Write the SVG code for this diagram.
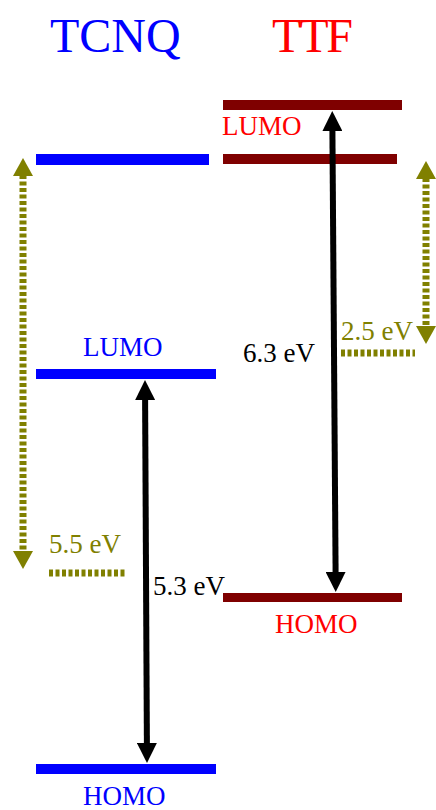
<svg xmlns="http://www.w3.org/2000/svg" width="436" height="810" viewBox="0 0 436 810">
<style>
text{font-family:"Liberation Serif","Times New Roman",serif}
.title{font-size:48px}
.lbl{font-size:27px}
.blue{fill:#0000ff}
.red{fill:#ff0000}
.olv{fill:#808000}
.blk{fill:#000}
.lvB{fill:#0000ff}
.lvR{fill:#7f0000}
.arr{stroke:#000;stroke-width:6;fill:none}
.dot{stroke:#808000;stroke-width:7;stroke-dasharray:4 2.5;fill:none}
</style>
<defs>
<marker id="hb" viewBox="0 0 20 20" refX="1" refY="10" markerWidth="20" markerHeight="20" markerUnits="userSpaceOnUse" orient="auto-start-reverse">
<path d="M0,0 L20,10 L0,20 z" fill="#000"/>
</marker>
<marker id="ho" viewBox="0 0 18 20" refX="1" refY="10" markerWidth="18" markerHeight="20" markerUnits="userSpaceOnUse" orient="auto-start-reverse">
<path d="M0,0 L18,10 L0,20 z" fill="#808000"/>
</marker>
</defs>
<g id="titles">
<text class="title blue" x="50" y="52">TCNQ</text>
<text class="title red" x="272" y="52" textLength="81">TTF</text>
</g>
<g id="tcnq-top"><rect class="lvB" x="36" y="154" width="173" height="11"/></g>
<g id="tcnq-lumo"><rect class="lvB" x="36" y="369" width="180" height="10"/><text class="lbl blue" x="83" y="356">LUMO</text></g>
<g id="tcnq-homo"><rect class="lvB" x="36" y="764" width="180" height="10"/><text class="lbl blue" x="83" y="805">HOMO</text></g>
<g id="ttf-lumo"><rect class="lvR" x="223" y="100" width="179" height="10"/><text class="lbl red" x="222" y="135">LUMO</text></g>
<g id="ttf-level2"><rect class="lvR" x="223" y="154" width="174" height="10"/></g>
<g id="ttf-homo"><rect class="lvR" x="223" y="593" width="179" height="9"/><text class="lbl red" x="275" y="633">HOMO</text></g>
<g id="connectors">
<line class="arr" x1="332.4" y1="130" x2="335.6" y2="573" marker-start="url(#hb)" marker-end="url(#hb)"/>
<line class="arr" x1="145.1" y1="399" x2="146.9" y2="744" marker-start="url(#hb)" marker-end="url(#hb)"/>
<line class="dot" x1="23" y1="175" x2="23" y2="552" marker-start="url(#ho)" marker-end="url(#ho)"/>
<line class="dot" x1="426" y1="178" x2="426" y2="327" marker-start="url(#ho)" marker-end="url(#ho)"/>
<line class="dot" x1="49" y1="573" x2="125" y2="573"/>
<line class="dot" x1="341" y1="353" x2="415" y2="353"/>
</g>
<g id="labels">
<text class="lbl blk" x="243" y="362">6.3 eV</text>
<text class="lbl blk" x="153" y="595">5.3 eV</text>
<text class="lbl olv" x="341" y="340">2.5 eV</text>
<text class="lbl olv" x="49" y="553">5.5 eV</text>
</g>
</svg>
